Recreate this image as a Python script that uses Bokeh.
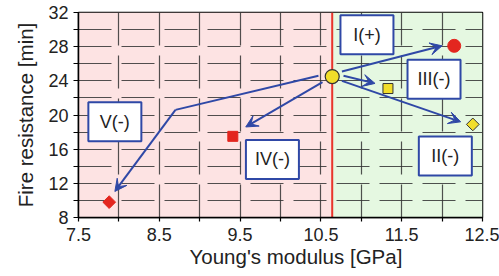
from bokeh.plotting import figure
from bokeh.models import (BoxAnnotation, Span, Arrow, VeeHead, Range1d,
                          ColumnDataSource, Title)
from bokeh.core.properties import value
from bokeh.embed import file_html
from bokeh.resources import INLINE

# ---- data ----
ref_E = 10.64          # reference Young's modulus [GPa]
ref_fr = 24.5          # reference fire resistance [min]

case_labels = ["I(+)", "III(-)", "II(-)", "IV(-)", "V(-)"]
case_E = [12.15, 11.33, 12.38, 9.41, 7.88]
case_fr = [28.1, 23.1, 18.9, 17.5, 9.8]
case_color = ["#e3261f", "#f2de2a", "#f2de2a", "#e3261f", "#e3261f"]
case_marker = ["circle", "square", "diamond", "square", "diamond"]

# arrows (start -> end) in data units
arr_x0 = [10.76, 10.78, 10.76, 10.52, 8.70]
arr_y0 = [25.1, 24.6, 24.0, 23.85, 20.6]
arr_x1 = [12.00, 11.17, 12.23, 9.57, 7.95]
arr_y1 = [28.1, 23.7, 19.2, 18.6, 11.05]
# first leg of the V path
v_path_x = [10.47, 8.70]
v_path_y = [24.6, 20.6]

# label boxes
lab_x = [11.07, 11.90, 12.04, 9.90, 7.95]
lab_y = [29.4, 24.2, 15.2, 14.8, 19.2]

x_ticks = [7.5, 8.0, 8.5, 9.0, 9.5, 10.0, 10.5, 11.0, 11.5, 12.0, 12.5]
x_tick_labels = ["7.5", "", "8.5", "", "9.5", "", "10.5", "", "11.5", "", "12.5"]
y_ticks = [8, 10, 12, 14, 16, 18, 20, 22, 24, 26, 28, 30, 32]
y_tick_labels = ["8", "", "12", "", "16", "", "20", "", "24", "", "28", "", "32"]

x_title = "Young's modulus [GPa]"
y_title = "Fire resistance [min]"

BLUE = "#2f48a6"
FONT = "Liberation Sans"

p = figure(width=499, height=276, x_range=Range1d(7.5, 12.5), y_range=Range1d(8, 32),
           output_backend="svg", toolbar_location=None,
           min_border_left=78, min_border_right=17, min_border_top=12, min_border_bottom=59)

# backgrounds
p.add_layout(BoxAnnotation(right=ref_E, fill_color="#fde3e3", fill_alpha=1, line_alpha=0, level="image"))
p.add_layout(BoxAnnotation(left=ref_E, fill_color="#e5f8e1", fill_alpha=1, line_alpha=0, level="image"))

# axes & grid
p.xaxis.ticker = x_ticks
p.yaxis.ticker = y_ticks
p.xaxis.major_label_overrides = {t: l for t, l in zip(x_ticks, x_tick_labels)}
p.yaxis.major_label_overrides = {t: l for t, l in zip(y_ticks, y_tick_labels)}
p.yaxis.axis_label = y_title
for ax in (p.xaxis[0], p.yaxis[0]):
    ax.axis_label_text_font = FONT
    ax.axis_label_text_font_size = "20.5px"
    ax.axis_label_text_font_style = "normal"
    ax.axis_label_text_color = "#222222"
    ax.major_label_text_font = FONT
    ax.major_label_text_font_size = "18px"
    ax.major_label_text_color = "#222222"
    ax.axis_line_color = "black"
    ax.axis_line_width = 1.5
    ax.major_tick_line_color = "black"
    ax.major_tick_line_width = 1.2
    ax.major_tick_in = 0
    ax.minor_tick_line_color = None
p.xaxis.major_tick_out = 4
p.yaxis.major_tick_out = 5
p.xaxis.major_label_standoff = 6
p.yaxis.major_label_standoff = 5
p.yaxis.axis_label_standoff = 8

# x-axis title (slightly right of centre, as in the original)
p.add_layout(Title(text=x_title, align="left", offset=111, standoff=2, vertical_align="top",
                   text_font=FONT, text_font_size="20.5px", text_font_style="normal",
                   text_color="#222222"), "below")

for g in (p.xgrid[0], p.ygrid[0]):
    g.grid_line_color = "#333333"
    g.grid_line_width = 1.2
    g.grid_line_alpha = 0.85
    g.grid_line_dash = "33 10"

p.outline_line_color = "black"
p.outline_line_width = 1.5
p.outline_line_alpha = 1

# reference line
p.add_layout(Span(location=ref_E, dimension="height", line_color="#e8352b", line_width=2, level="underlay"))

# arrows
p.line(v_path_x, v_path_y, line_color=BLUE, line_width=2)
for x0, y0, x1, y1 in zip(arr_x0, arr_y0, arr_x1, arr_y1):
    p.add_layout(Arrow(x_start=x0, y_start=y0, x_end=x1, y_end=y1,
                       line_color=BLUE, line_width=2,
                       end=VeeHead(size=12, fill_color=BLUE, line_color=BLUE, line_width=1)))

# points
for xe, yf, c, m in zip(case_E, case_fr, case_color, case_marker):
    edge = "#333333" if c == "#f2de2a" else c
    if m == "circle":
        p.scatter([xe], [yf], marker="circle", size=13, fill_color=c, line_color=edge)
    elif m == "square":
        p.scatter([xe], [yf], marker="square", size=10, fill_color=c, line_color=edge)
    else:
        p.scatter([xe], [yf], marker="square", size=9, angle=0.785398, fill_color=c, line_color=edge)

p.scatter([ref_E], [ref_fr], marker="circle", size=14, fill_color="#f2de2a", line_color="#333333", line_width=1.2)

# label boxes
src = ColumnDataSource(dict(x=lab_x, y=lab_y, t=case_labels))
p.rect("x", "y", width=53, height=39, width_units="screen", height_units="screen",
       fill_color="white", line_color=BLUE, line_width=2, source=src)
p.text("x", "y", text="t", text_align="center", text_baseline="middle",
       text_font=value(FONT), text_font_size="18px", text_color="#222222", source=src)

open("out.html", "w").write(file_html(p, INLINE))
